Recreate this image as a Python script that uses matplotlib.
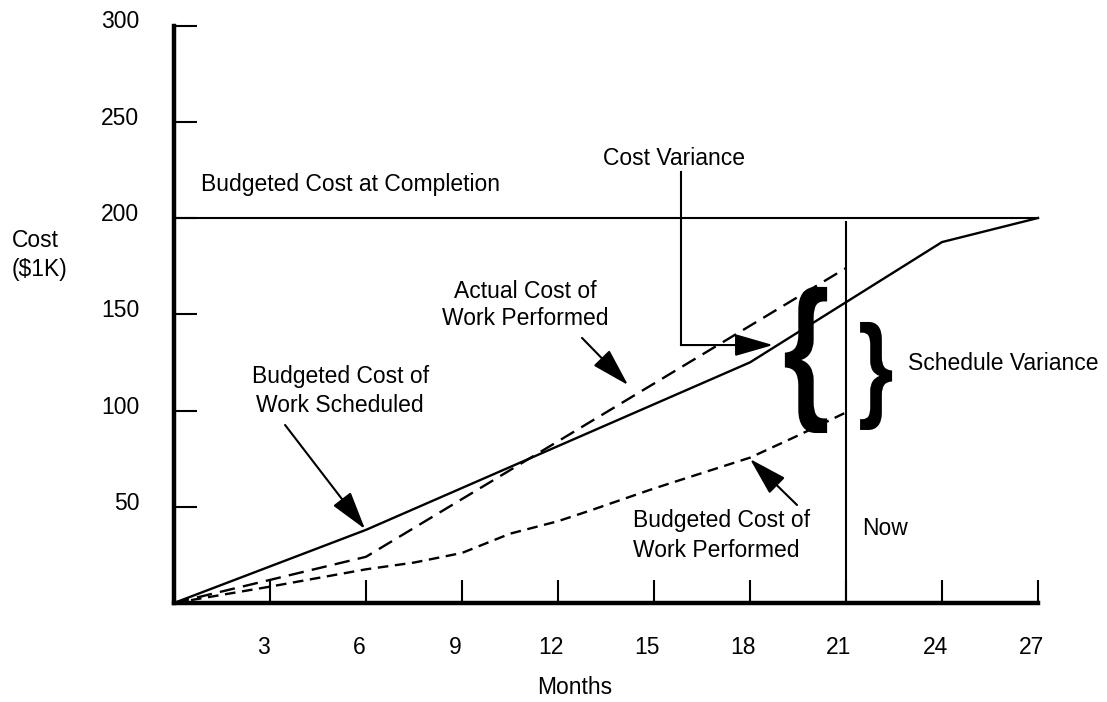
import matplotlib
matplotlib.use("Agg")
import matplotlib.pyplot as plt
from matplotlib.patches import PathPatch
from matplotlib.textpath import TextPath
from matplotlib.font_manager import FontProperties
from matplotlib.transforms import Affine2D, ScaledTranslation

plt.rcParams["font.family"] = ["Liberation Sans", "DejaVu Sans"]
plt.rcParams["font.size"] = 16.5

# earned value curves, months vs cost ($1K)
bcws_months = [0, 6, 18, 24, 27]
bcws_cost = [0, 38, 125, 187.5, 200]

acwp_months = [0, 6, 21]
acwp_cost = [0, 24, 174]

bcwp_months = [0, 3, 6, 7.5, 9, 10.5, 12, 13, 15, 16.5, 18, 19.5, 21]
bcwp_cost = [0, 8.5, 17.5, 21, 26, 36, 42.5, 48, 59.5, 67.5, 75.5, 87, 99]

budget_at_completion = 200
end_month = 27
now_month = 21

month_ticks = [3, 6, 9, 12, 15, 18, 21, 24, 27]
cost_ticks = [50, 100, 150, 200, 250, 300]

fig = plt.figure(figsize=(11.07, 7.02), dpi=100)
ax = fig.add_axes([174 / 1107, 99 / 702, 864 / 1107, 577.5 / 702])
ax.set_xlim(0, 27)
ax.set_ylim(0, 300)

line_kw = dict(color="black", lw=1.7, clip_on=False)
ax.plot(bcws_months, bcws_cost, **line_kw)
ax.plot(acwp_months, acwp_cost, dashes=(6.5, 3.5), **line_kw)
ax.plot(bcwp_months, bcwp_cost, dashes=(4.5, 2.8), **line_kw)

ax.plot([0, end_month], [budget_at_completion] * 2, color="black", lw=1.5, clip_on=False)
ax.plot([now_month, now_month], [0, 198], color="black", lw=1.5, clip_on=False)

# spines / ticks
for side in ("top", "right"):
    ax.spines[side].set_visible(False)
for side in ("left", "bottom"):
    ax.spines[side].set_linewidth(3.2)
    ax.spines[side].set_capstyle("projecting")

ax.set_xticks(month_ticks)
ax.set_yticks(cost_ticks)
ax.tick_params(direction="in", length=16.6, width=1.5, color="black")
ax.tick_params(axis="x", pad=23.5)
ax.tick_params(axis="y", pad=25)
for lbl in ax.get_xticklabels():
    lbl.set_transform(lbl.get_transform() + ScaledTranslation(-0.07, 0, fig.dpi_scale_trans))
for lbl in ax.get_yticklabels():
    lbl.set_transform(lbl.get_transform() + ScaledTranslation(0, 0.06, fig.dpi_scale_trans))

# text labels
def label(x, y, s, ha="left"):
    ax.text(x, y, s, ha=ha, va="baseline", clip_on=False)

label(0.84, 214.0, "Budgeted Cost at Completion")
label(13.41, 227.5, "Cost Variance")
label(10.97, 158.4, "Actual Cost of", ha="center")
label(10.97, 144.4, "Work Performed", ha="center")
label(5.19, 114.3, "Budgeted Cost of", ha="center")
label(5.19, 99.2, "Work Scheduled", ha="center")
label(14.34, 39.5, "Budgeted Cost of")
label(14.34, 23.9, "Work Performed")
label(21.5, 35.3, "Now")
label(22.94, 121.0, "Schedule Variance")
label(-5.06, 184.9, "Cost")
label(-5.06, 169.9, "($1K)")
label(11.34, -47.3, "Months")

# arrows
arrow_kw = dict(arrowstyle="-|>,head_length=1.45,head_width=0.42",
                color="black", lw=1.5, shrinkA=0, shrinkB=0)

def arrow(tail, tip):
    ax.annotate("", xy=tip, xytext=tail, arrowprops=arrow_kw, annotation_clip=False)

arrow((3.47, 92.5), (5.97, 38.4))
arrow((12.75, 137.7), (14.19, 113.2))
arrow((19.47, 50.9), (18.0, 74.8))
ax.plot([15.84, 15.84], [223.9, 134], color="black", lw=1.5, clip_on=False)
arrow((15.84, 134), (18.72, 134))

# variance braces
def brace(char, x0, x1, y0, y1):
    tp = TextPath((0, 0), char, size=100,
                  prop=FontProperties(family="Liberation Sans", weight="bold"))
    ext = tp.get_extents()
    tr = (Affine2D().translate(-ext.x0, -ext.y0)
          .scale((x1 - x0) / ext.width, (y1 - y0) / ext.height)
          .translate(x0, y0))
    ax.add_patch(PathPatch(tr.transform_path(tp), facecolor="black",
                           edgecolor="none", clip_on=False))

brace("{", 19.09, 20.41, 88.3, 164.2)
brace("}", 21.44, 22.44, 89.9, 146.0)

fig.savefig("out.png", dpi=100)
